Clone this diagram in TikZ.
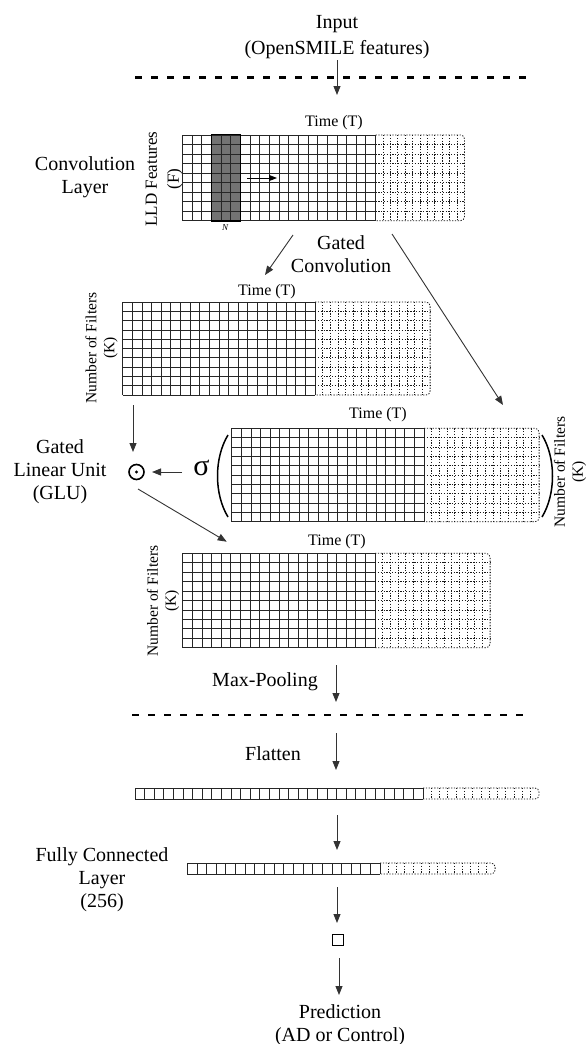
\documentclass[tikz,border=0pt]{standalone}
\usepackage{fontspec}
\setmainfont{Liberation Serif}
\usetikzlibrary{arrows.meta}
\tikzset{
  gl/.style={line width=0.8pt, black!85},
  dl/.style={line width=0.8pt, black!90, dash pattern=on 1.3pt off 1.5pt},
  arr/.style={line width=0.9pt, black!80, -{Triangle[length=9pt,width=7pt]}},
  lbl/.style={font=\fontsize{20}{23}\selectfont, align=center, inner sep=0pt},
  tlbl/.style={font=\fontsize{16}{18}\selectfont, inner sep=0pt},
  ylbl/.style={font=\fontsize{15.5}{18}\selectfont, align=center, inner sep=0pt, rotate=90},
  sepline/.style={line width=2.5pt, dash pattern=on 7pt off 9pt},
}
% #1 x0, #2 y0, #3 solid columns, #4 column width, #5 rows, #6 row height,
% #7 dotted width, #8 number of inner dotted verticals
\newcommand\fmap[8]{%
  \pgfmathsetmacro\fmxs{#1+#3*#4}%
  \pgfmathsetmacro\fmye{#2+#5*#6}%
  \pgfmathsetmacro\fmxe{\fmxs+#7}%
  \pgfmathtruncatemacro\fmrr{#5-1}%
  \foreach \i in {0,...,#3}{\draw[gl] ({#1+\i*#4},#2) -- ({#1+\i*#4},\fmye);}
  \foreach \j in {0,...,#5}{\draw[gl] (#1,{#2+\j*#6}) -- (\fmxs,{#2+\j*#6});}
  \ifnum#5>1
    \foreach \j in {1,...,\fmrr}{\draw[dl] (\fmxs,{#2+\j*#6}) -- (\fmxe,{#2+\j*#6});}
  \fi
  \foreach \i in {1,...,#8}{\draw[dl] ({\fmxs+\i*#7/(#8+1)},#2) -- ({\fmxs+\i*#7/(#8+1)},\fmye);}
  \draw[dl, rounded corners=4pt] (\fmxs,#2) -- (\fmxe,#2) -- (\fmxe,\fmye) -- (\fmxs,\fmye);
}
\begin{document}
\begin{tikzpicture}[x=1pt,y=-1pt]
\useasboundingbox (0,0) rectangle (587,1044);
\fill[white] (0,0) rectangle (587,1044);

% ---- input
\node[lbl, font=\fontsize{20}{26}\selectfont] (input) at (337,37) {Input\\(OpenSMILE features)};
\draw[sepline] (135,77.3) -- (535,77.3);
\coordinate (inS) at (337,60);
\coordinate (inE) at (337,95);
\draw[arr] (inS) -- (inE);

% ---- convolution layer
\node[lbl] (convlayer) at (85,177) {Convolution\\Layer};
\fill[black!55] (211.45,135) rectangle (240.4,220.7);
\fmap{182.5}{135}{20}{9.65}{9}{9.52}{89}{11}
\draw[line width=1.6pt] (211.45,134.5) rectangle (240.4,221.2);
\node[tlbl] (t1) at (334,123) {Time (T)};
\node[ylbl, font=\fontsize{17}{22}\selectfont] (f1) at (164,179) {LLD Features\\(F)};
\node[inner sep=0pt, font=\fontsize{9}{9}\selectfont\itshape] (nlab) at (225,228) {N};
\coordinate (slA) at (247,178);
\coordinate (slB) at (277,178);
\draw[line width=0.9pt, -{Triangle[length=8pt,width=6pt]}] (slA) -- (slB);

% ---- gated convolution
\node[lbl] (gconv) at (341,254) {Gated\\Convolution};
\coordinate (gc1s) at (293,235);
\coordinate (gc1e) at (265,275);
\coordinate (gc2s) at (392,234);
\coordinate (gc2e) at (503,405);
\draw[arr] (gc1s) -- (gc1e);
\draw[arr] (gc2s) -- (gc2e);

% ---- grid 2 (linear part)
\fmap{122.7}{302}{20}{9.62}{10}{9.3}{115}{14}
\node[tlbl] (t2) at (267,292) {Time (T)};
\node[ylbl] (k2) at (101.5,348) {Number of Filters\\(K)};

% ---- sigma grid
\fmap{231.7}{428.3}{20}{9.62}{10}{9.34}{115}{14}
\node[tlbl] (t3) at (378,415) {Time (T)};
\node[ylbl] (k3) at (570,472) {Number of Filters\\(K)};
\node[inner sep=0pt, font=\fontsize{30}{30}\selectfont] (sigma) at (201.5,468) {σ};
\draw[line width=1.5pt] (228,435) .. controls (214,458) and (214,494) .. (228,517);
\draw[line width=1.5pt] (542,435) .. controls (556,458) and (556,494) .. (542,517);

% ---- GLU
\node[lbl] (glu) at (60,472) {Gated\\Linear Unit\\(GLU)};
\node[circle, draw, line width=1.6pt, minimum size=15pt, inner sep=0pt] (odot) at (136.5,472) {};
\fill (odot.center) circle (1.7pt);
\coordinate (g2d) at (133,405);
\coordinate (g2e) at (133,452);
\draw[arr] (g2d) -- (g2e);
\coordinate (sgS) at (182,472);
\coordinate (sgE) at (152,472);
\draw[arr] (sgS) -- (sgE);
\coordinate (gluS) at (138,489);
\coordinate (gluE) at (226.7,541.7);
\draw[arr] (gluS) -- (gluE);

% ---- grid 3
\fmap{182.7}{553.3}{20}{9.62}{10}{9.44}{115}{14}
\node[tlbl] (t4) at (337,542) {Time (T)};
\node[ylbl] (k4) at (163,601) {Number of Filters\\(K)};

% ---- max pooling
\node[lbl] (maxp) at (265,682) {Max-Pooling};
\coordinate (mpS) at (336,665);
\coordinate (mpE) at (336,702);
\draw[arr] (mpS) -- (mpE);
\draw[sepline] (132,715) -- (530,715);

% ---- flatten
\node[lbl] (flat) at (273,754) {Flatten};
\coordinate (flS) at (336,733);
\coordinate (flE) at (336,770);
\draw[arr] (flS) -- (flE);
\fmap{135}{788}{30}{9.6}{1}{11}{116}{13}
\coordinate (f2S) at (337,815);
\coordinate (f2E) at (337,850);
\draw[arr] (f2S) -- (f2E);

% ---- fully connected
\node[lbl] (fc) at (102,880) {Fully Connected\\Layer\\(256)};
\fmap{187.3}{863}{20}{9.64}{1}{11}{115}{13}
\coordinate (fcS) at (337,887);
\coordinate (fcE) at (337,923);
\draw[arr] (fcS) -- (fcE);
\node[draw, line width=1pt, minimum size=11pt, inner sep=0pt] (outsq) at (337.5,940) {};
\coordinate (prS) at (339,958);
\coordinate (prE) at (339,995);
\draw[arr] (prS) -- (prE);
\node[lbl] (pred) at (340,1025) {Prediction\\(AD or Control)};
\end{tikzpicture}
\end{document}
